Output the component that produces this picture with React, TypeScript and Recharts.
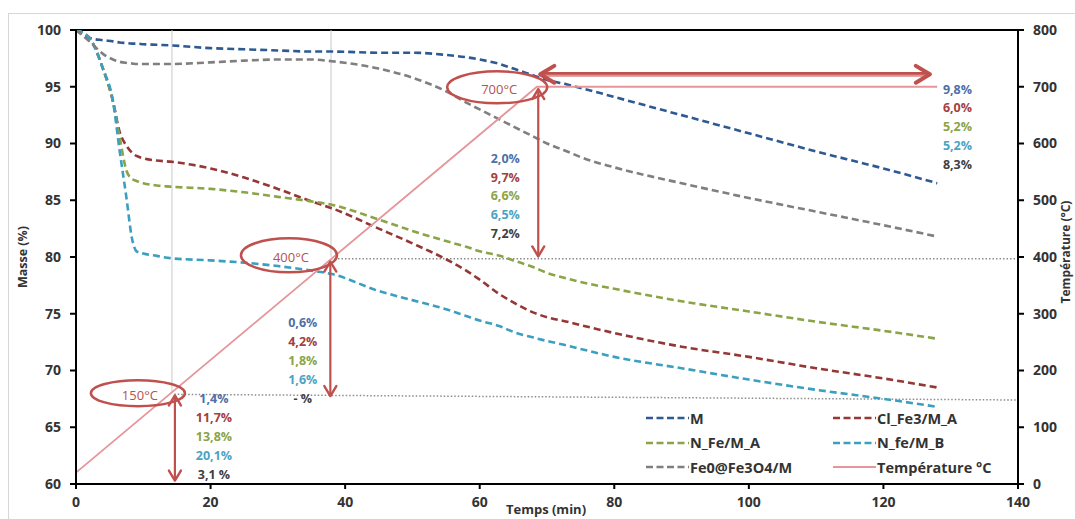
import React from 'react';
import { ComposedChart, Line, XAxis, YAxis, ReferenceLine, ReferenceDot } from 'recharts';

// ---------- data ----------
const time = [0, 2, 4, 5.5, 6.5, 7.5, 8.3, 9, 10, 12, 14, 20, 25, 30, 35, 38, 45, 50, 55, 58, 60, 63, 65, 68, 70, 73, 75, 80, 90, 100, 110, 120, 128];
const massM = [100, 99.3, 99.1, 99.0, 98.9, 98.85, 98.8, 98.8, 98.75, 98.7, 98.65, 98.4, 98.3, 98.2, 98.1, 98.1, 98.0, 98.0, 97.8, 97.6, 97.4, 97.0, 96.6, 96.0, 95.6, 95.2, 94.9, 94.1, 92.5, 90.9, 89.3, 87.8, 86.5];
const massCl = [100, 99.3, 96.6, 93.7, 91.0, 89.8, 89.2, 88.9, 88.7, 88.5, 88.4, 87.8, 87.0, 86.0, 84.9, 84.3, 82.5, 81.2, 79.8, 78.8, 78.0, 76.7, 76.0, 75.1, 74.7, 74.3, 74.0, 73.3, 72.1, 71.2, 70.2, 69.3, 68.5];
const massNFeA = [100, 99.3, 96.6, 93.7, 90.5, 87.6, 86.9, 86.7, 86.5, 86.3, 86.2, 86.0, 85.7, 85.3, 84.9, 84.6, 83.3, 82.3, 81.4, 80.9, 80.5, 80.1, 79.7, 79.1, 78.6, 78.1, 77.8, 77.2, 76.1, 75.2, 74.3, 73.5, 72.8];
const massNfeB = [100, 99.3, 96.6, 93.7, 89.3, 85.2, 81.7, 80.5, 80.3, 80.1, 79.9, 79.7, 79.5, 79.2, 78.8, 78.5, 77.0, 76.2, 75.4, 74.8, 74.4, 73.9, 73.4, 72.9, 72.6, 72.2, 71.9, 71.2, 70.2, 69.2, 68.3, 67.5, 66.8];
const massFe0 = [100, 99.0, 97.9, 97.4, 97.2, 97.1, 97.05, 97.0, 97.0, 97.0, 97.0, 97.15, 97.3, 97.4, 97.4, 97.25, 96.6, 95.8, 94.6, 93.6, 93.0, 92.1, 91.5, 90.6, 90.0, 89.3, 88.8, 87.9, 86.5, 85.2, 84.0, 82.8, 81.8];

const tempTime = [0, 68.5, 128];
const tempValues = [20, 700, 700];

const xTicks = [0, 20, 40, 60, 80, 100, 120, 140];
const massTicks = [60, 65, 70, 75, 80, 85, 90, 95, 100];
const tempTicks = [0, 100, 200, 300, 400, 500, 600, 700, 800];

const seriesNames = ['M', 'Cl_Fe3/M_A', 'N_Fe/M_A', 'N_fe/M_B', 'Fe0@Fe3O4/M', 'Température °C'];
const seriesKeys = ['M', 'Cl', 'NFeA', 'NfeB', 'Fe0'];
const seriesColors = ['#2E5A93', '#953735', '#8BA446', '#3B9FC0', '#7F7F7F', '#E6959A'];

const lossColors = ['#4F6FA8', '#A3413E', '#8BA446', '#4BA3C3', '#404040'];
const loss150 = ['1,4%', '11,7%', '13,8%', '20,1%', '3,1 %'];
const loss400 = ['0,6%', '4,2%', '1,8%', '1,6%', '- %'];
const loss700 = ['2,0%', '9,7%', '6,6%', '6,5%', '7,2%'];
const lossEnd = ['9,8%', '6,0%', '5,2%', '5,2%', '8,3%'];

const tempLabels = ['150°C', '400°C', '700°C'];

const massData = time.map((t, i) => ({
  t,
  M: massM[i],
  Cl: massCl[i],
  NFeA: massNFeA[i],
  NfeB: massNfeB[i],
  Fe0: massFe0[i],
}));
const tempData = tempTime.map((t, i) => ({ t, T: tempValues[i] }));

// ---------- annotation geometry (data coordinates) ----------
const ellipses = [
  { t: 9.2, m: 68.0, rx: 47, ry: 13, label: tempLabels[0] },
  { t: 31.65, m: 80.15, rx: 48, ry: 17, label: tempLabels[1] },
  { t: 62.6, m: 94.95, rx: 50, ry: 16, label: tempLabels[2] },
];
const stacks = [
  { t: 20.5, m: 67.5, labels: loss150 },
  { t: 33.7, m: 74.2, labels: loss400 },
  { t: 63.8, m: 88.7, labels: loss700 },
  { t: 131.0, m: 94.8, labels: lossEnd },
];
const arrows = [
  { x1: 14.7, y1: 67.8, x2: 14.7, y2: 60.3, w: 2.2, head: 10 },
  { x1: 37.8, y1: 79.6, x2: 37.8, y2: 67.75, w: 2.2, head: 10 },
  { x1: 68.7, y1: 94.8, x2: 68.7, y2: 80.05, w: 2.2, head: 10 },
  { x1: 69.0, y1: 96.1, x2: 126.9, y2: 96.1, w: 4.5, head: 14 },
];

const FONT = '"Open Sans", "Noto Sans", sans-serif';
const RED = '#C0504D';

const arrowShape = (w: number, head: number) => (p: any) => {
  const { x1, y1, x2, y2 } = p;
  const dx = x2 - x1;
  const dy = y2 - y1;
  const L = Math.hypot(dx, dy) || 1;
  const ux = dx / L;
  const uy = dy / L;
  const px = -uy;
  const py = ux;
  const s = 0.6;
  const hd = (x: number, y: number, sx: number, sy: number) =>
    `M${x + sx * head + px * head * s},${y + sy * head + py * head * s} L${x},${y} L${x + sx * head - px * head * s},${y + sy * head - py * head * s}`;
  return (
    <g>
      <line x1={x1} y1={y1} x2={x2} y2={y2} stroke={RED} strokeWidth={w} />
      {w > 3 && <line x1={x1 + 4} y1={y1 + 1} x2={x2 - 4} y2={y2 + 1} stroke="#E9A9A6" strokeWidth={1} />}
      <path d={hd(x1, y1, ux, uy) + ' ' + hd(x2, y2, -ux, -uy)} fill="none" stroke={RED} strokeWidth={w > 3 ? 4 : 2.4} strokeLinecap="round" strokeLinejoin="round" />
    </g>
  );
};

const ellipseShape = (label: string, rx: number, ry: number) => (p: any) => (
  <g>
    <ellipse cx={p.cx} cy={p.cy} rx={rx} ry={ry} fill="none" stroke={RED} strokeWidth={2.5} />
    <text x={p.cx + 2} y={p.cy + 2} textAnchor="middle" dominantBaseline="central" fill="#B5524F" fontSize={13} fontFamily={FONT}>
      {label}
    </text>
  </g>
);

const stackShape = (labels: string[]) => (p: any) => (
  <g>
    {labels.map((s, i) => (
      <text key={i} x={p.cx} y={p.cy + i * 18.8} textAnchor="middle" dominantBaseline="central" fill={lossColors[i]} fontSize={12.5} fontWeight={700} fontFamily={FONT}>
        {s}
      </text>
    ))}
  </g>
);

const tickStyle = { fill: '#333', fontSize: 14, fontWeight: 700, fontFamily: FONT };

function LegendBox() {
  const rows = [
    [0, 1],
    [2, 3],
    [4, 5],
  ];
  return (
    <div style={{ position: 'absolute', left: 646, top: 406, width: 380, fontFamily: FONT, fontWeight: 700, fontSize: 14.5, color: '#333' }}>
      {rows.map((r, ri) => (
        <div key={ri} style={{ display: 'flex', height: 24.5, alignItems: 'center' }}>
          {r.map((si) => (
            <div key={si} style={{ display: 'flex', alignItems: 'center', width: si % 2 === 0 ? 187 : 190 }}>
              <svg width={43} height={6} style={{ display: 'block' }}>
                <line
                  x1={0}
                  y1={3}
                  x2={43}
                  y2={3}
                  stroke={seriesColors[si]}
                  strokeWidth={si === 5 ? 2 : 2.5}
                  strokeDasharray={si === 5 ? undefined : '7 3.5'}
                />
              </svg>
              <span style={{ marginLeft: 1, whiteSpace: 'nowrap' }}>{seriesNames[si]}</span>
            </div>
          ))}
        </div>
      ))}
    </div>
  );
}

export default function App() {
  return (
    <div style={{ position: 'absolute', left: 0, top: 0, width: 1075, height: 519, overflow: 'hidden', background: '#fff' }}>
      <div style={{ position: 'absolute', left: 8, top: 13, width: 1100, height: 600, borderLeft: '1px solid #d6d6d6', borderTop: '1px solid #d6d6d6' }} />
      <div style={{ position: 'absolute', left: 0, top: 0 }}>
        <ComposedChart width={1075} height={519} margin={{ top: 30, right: 0, bottom: 0, left: 0 }}>
          <XAxis
            type="number"
            dataKey="t"
            domain={[0, 140]}
            ticks={xTicks}
            height={35}
            tickSize={5}
            tickMargin={8}
            axisLine={{ stroke: '#000', strokeWidth: 2 }}
            tickLine={{ stroke: '#000', strokeWidth: 2 }}
            tick={tickStyle}
            allowDataOverflow
          />
          <YAxis
            yAxisId="m"
            domain={[60, 100]}
            ticks={massTicks}
            width={76}
            tickSize={6}
            tickMargin={9}
            axisLine={{ stroke: '#000', strokeWidth: 2 }}
            tickLine={{ stroke: '#000', strokeWidth: 2 }}
            tick={tickStyle}
            allowDataOverflow
          />
          <YAxis
            yAxisId="t"
            orientation="right"
            domain={[0, 800]}
            ticks={tempTicks}
            width={57}
            tickSize={6}
            tickMargin={9}
            axisLine={{ stroke: '#000', strokeWidth: 2 }}
            tickLine={{ stroke: '#000', strokeWidth: 2 }}
            tick={tickStyle}
            allowDataOverflow
          />

          <ReferenceLine yAxisId="m" y={100} stroke="#000" strokeWidth={2} />
          <ReferenceLine yAxisId="m" segment={[{ x: 14.26, y: 100 }, { x: 14.26, y: 68.0 }]} stroke="#c8c8c8" strokeWidth={1} />
          <ReferenceLine yAxisId="m" segment={[{ x: 37.9, y: 100 }, { x: 37.9, y: 80.0 }]} stroke="#c8c8c8" strokeWidth={1} />
          <ReferenceLine yAxisId="m" segment={[{ x: 14.6, y: 67.9 }, { x: 140, y: 67.4 }]} stroke="#8c8c8c" strokeWidth={1.5} strokeDasharray="1.5 2" />
          <ReferenceLine yAxisId="m" segment={[{ x: 37.9, y: 79.85 }, { x: 140, y: 79.85 }]} stroke="#8c8c8c" strokeWidth={1.5} strokeDasharray="1.5 2" />

          {seriesKeys.map((k, i) => (
            <Line
              key={k}
              yAxisId="m"
              data={massData}
              dataKey={k}
              name={seriesNames[i]}
              type="monotone"
              stroke={seriesColors[i]}
              strokeWidth={2.6}
              strokeDasharray="7 4"
              dot={false}
              activeDot={false}
              isAnimationActive={false}
            />
          ))}
          <Line
            yAxisId="t"
            data={tempData}
            dataKey="T"
            name={seriesNames[5]}
            type="linear"
            stroke={seriesColors[5]}
            strokeWidth={1.8}
            dot={false}
            activeDot={false}
            isAnimationActive={false}
          />

          {ellipses.map((e, i) => (
            <ReferenceDot key={'e' + i} yAxisId="m" x={e.t} y={e.m} r={1} shape={ellipseShape(e.label, e.rx, e.ry)} />
          ))}
          {arrows.map((a, i) => (
            <ReferenceLine
              key={'a' + i}
              yAxisId="m"
              segment={[{ x: a.x1, y: a.y1 }, { x: a.x2, y: a.y2 }]}
              stroke={RED}
              shape={arrowShape(a.w, a.head)}
            />
          ))}
          {stacks.map((s, i) => (
            <ReferenceDot key={'s' + i} yAxisId="m" x={s.t} y={s.m} r={1} shape={stackShape(s.labels)} />
          ))}
        </ComposedChart>
      </div>

      <div
        style={{
          position: 'absolute',
          left: 22,
          top: 257,
          transform: 'translate(-50%, -50%) rotate(-90deg)',
          fontFamily: FONT,
          fontWeight: 700,
          fontSize: 12.5,
          color: '#333',
          whiteSpace: 'nowrap',
        }}
      >
        Masse (%)
      </div>
      <div
        style={{
          position: 'absolute',
          left: 1066,
          top: 252,
          transform: 'translate(-50%, -50%) rotate(-90deg)',
          fontFamily: FONT,
          fontWeight: 700,
          fontSize: 12,
          lineHeight: '14px',
          color: '#333',
          whiteSpace: 'nowrap',
        }}
      >
        Température (°C)
      </div>
      <div
        style={{
          position: 'absolute',
          left: 546,
          top: 501,
          transform: 'translateX(-50%)',
          fontFamily: FONT,
          fontWeight: 700,
          fontSize: 13,
          lineHeight: '16px',
          color: '#333',
          whiteSpace: 'nowrap',
        }}
      >
        Temps (min)
      </div>
      <LegendBox />
    </div>
  );
}
